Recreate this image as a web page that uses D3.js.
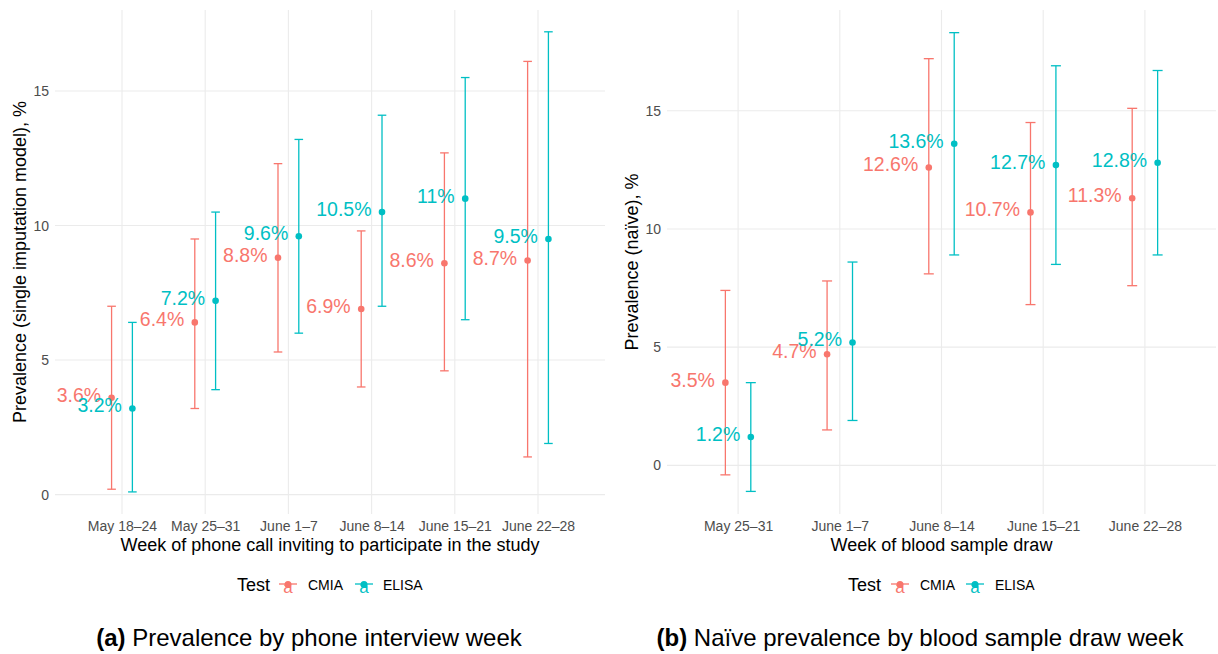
<!DOCTYPE html>
<html>
<head>
<meta charset="utf-8">
<script src="https://cdn.jsdelivr.net/npm/d3@7"></script>
<style>
  html, body { margin: 0; padding: 0; background: #fff; }
  svg { display: block; font-family: "Liberation Sans", Arial, Helvetica, sans-serif; }
</style>
</head>
<body>
<svg id="chart" width="1218" height="654"></svg>
<script>
// ---------- data ----------
const testNames = ["CMIA", "ELISA"];
const testColors = ["#F8766D", "#00BFC4"];
const yTicks = [0, 5, 10, 15];

// Panel (a): phone interview week, single imputation model
const weeksA = ["May 18–24", "May 25–31", "June 1–7", "June 8–14", "June 15–21", "June 22–28"];
const cmiaA    = [3.6, 6.4, 8.8, 6.9, 8.6, 8.7];
const cmiaALo  = [0.2, 3.2, 5.3, 4.0, 4.6, 1.4];
const cmiaAHi  = [7.0, 9.5, 12.3, 9.8, 12.7, 16.1];
const elisaA   = [3.2, 7.2, 9.6, 10.5, 11, 9.5];
const elisaALo = [0.1, 3.9, 6.0, 7.0, 6.5, 1.9];
const elisaAHi = [6.4, 10.5, 13.2, 14.1, 15.5, 17.2];

// Panel (b): blood sample draw week, naive
const weeksB = ["May 25–31", "June 1–7", "June 8–14", "June 15–21", "June 22–28"];
const cmiaB    = [3.5, 4.7, 12.6, 10.7, 11.3];
const cmiaBLo  = [-0.4, 1.5, 8.1, 6.8, 7.6];
const cmiaBHi  = [7.4, 7.8, 17.2, 14.5, 15.1];
const elisaB   = [1.2, 5.2, 13.6, 12.7, 12.8];
const elisaBLo = [-1.1, 1.9, 8.9, 8.5, 8.9];
const elisaBHi = [3.5, 8.6, 18.3, 16.9, 16.7];

const panels = [
  {
    weeks: weeksA,
    series: [
      {name: "CMIA", est: cmiaA, lo: cmiaALo, hi: cmiaAHi},
      {name: "ELISA", est: elisaA, lo: elisaALo, hi: elisaAHi}
    ],
    xRange: [55, 605], xPad: 0.805, yRange: [494.6, 91],
    yTitle: "Prevalence (single imputation model), %",
    xTitle: "Week of phone call inviting to participate in the study",
    yTitleX: 20, capHalf: 4.3,
    legend: {test: 237, keys: [288, 364], texts: [308, 383]},
    capLabel: "(a)", capText: " Prevalence by phone interview week", capX: 309
  },
  {
    weeks: weeksB,
    series: [
      {name: "CMIA", est: cmiaB, lo: cmiaBLo, hi: cmiaBHi},
      {name: "ELISA", est: elisaB, lo: elisaBLo, hi: elisaBHi}
    ],
    xRange: [667, 1216], xPad: 0.699, yRange: [465.4, 110.7],
    yTitle: "Prevalence (naïve), %",
    xTitle: "Week of blood sample draw",
    yTitleX: 631.7, capHalf: 5,
    legend: {test: 848, keys: [900, 975], texts: [920, 995]},
    capLabel: "(b)", capText: " Naïve prevalence by blood sample draw week", capX: 920
  }
];

const svg = d3.select("#chart");
const panelTop = 10, panelBottom = 514;

panels.forEach(p => {
  const g = svg.append("g");
  const x = d3.scalePoint().domain(p.weeks).range(p.xRange).padding(p.xPad);
  const y = d3.scaleLinear().domain([0, 15]).range(p.yRange);
  const dodge = x.step() * 0.125;

  // gridlines
  g.append("g").selectAll("line.h").data(yTicks).join("line")
    .attr("x1", p.xRange[0]).attr("x2", p.xRange[1])
    .attr("y1", d => y(d)).attr("y2", d => y(d))
    .attr("stroke", "#EBEBEB").attr("stroke-width", 1.1);
  g.append("g").selectAll("line.v").data(p.weeks).join("line")
    .attr("x1", d => x(d)).attr("x2", d => x(d))
    .attr("y1", panelTop).attr("y2", panelBottom)
    .attr("stroke", "#EBEBEB").attr("stroke-width", 1.1);

  // y axis
  const ya = g.append("g").attr("transform", `translate(${p.xRange[0]},0)`)
    .call(d3.axisLeft(y).tickValues(yTicks).tickSize(0).tickPadding(6));
  ya.select(".domain").remove();
  ya.selectAll("text").attr("font-size", 14).attr("fill", "#4D4D4D")
    .attr("font-family", "Liberation Sans, Arial, sans-serif");

  // x axis
  const xa = g.append("g").attr("transform", `translate(0,526)`)
    .call(d3.axisBottom(x).tickSize(0).tickPadding(0));
  xa.select(".domain").remove();
  xa.selectAll("text").attr("y", 0).attr("dy", "0.36em")
    .attr("font-size", 14).attr("fill", "#4D4D4D")
    .attr("font-family", "Liberation Sans, Arial, sans-serif");

  // axis titles
  g.append("text").attr("x", (p.xRange[0] + p.xRange[1]) / 2).attr("y", 551)
    .attr("text-anchor", "middle").attr("font-size", 18).attr("fill", "#000")
    .text(p.xTitle);
  g.append("text")
    .attr("transform", `translate(${p.yTitleX},${(panelTop + panelBottom) / 2}) rotate(-90)`)
    .attr("text-anchor", "middle").attr("dominant-baseline", "central")
    .attr("font-size", 18).attr("fill", "#000")
    .text(p.yTitle);

  // series
  p.series.forEach((s, si) => {
    const col = testColors[si];
    const off = si === 0 ? -dodge : dodge;
    const rows = p.weeks.map((w, i) => ({w, est: s.est[i], lo: s.lo[i], hi: s.hi[i]}));
    const sg = g.append("g");
    // error bars
    sg.selectAll("line.eb").data(rows).join("line")
      .attr("x1", d => x(d.w) + off).attr("x2", d => x(d.w) + off)
      .attr("y1", d => y(d.lo)).attr("y2", d => y(d.hi))
      .attr("stroke", col).attr("stroke-width", 1.3);
    sg.selectAll("line.cl").data(rows).join("line")
      .attr("x1", d => x(d.w) + off - p.capHalf).attr("x2", d => x(d.w) + off + p.capHalf)
      .attr("y1", d => y(d.lo)).attr("y2", d => y(d.lo))
      .attr("stroke", col).attr("stroke-width", 1.3);
    sg.selectAll("line.ch").data(rows).join("line")
      .attr("x1", d => x(d.w) + off - p.capHalf).attr("x2", d => x(d.w) + off + p.capHalf)
      .attr("y1", d => y(d.hi)).attr("y2", d => y(d.hi))
      .attr("stroke", col).attr("stroke-width", 1.3);
    // points
    sg.selectAll("circle").data(rows).join("circle")
      .attr("cx", d => x(d.w) + off).attr("cy", d => y(d.est))
      .attr("r", 3.3).attr("fill", col);
    s._rows = rows; s._off = off; s._col = col;
  });
  // labels
  p.series.forEach(s => {
    g.append("g").selectAll("text").data(s._rows).join("text")
      .attr("x", d => x(d.w) + s._off - 10.5)
      .attr("y", d => y(d.est) - 3)
      .attr("text-anchor", "end").attr("dominant-baseline", "central")
      .attr("font-size", 19.5).attr("fill", s._col)
      .text(d => String(d.est) + "%");
  });

  // legend
  const lg = g.append("g");
  lg.append("text").attr("x", p.legend.test).attr("y", 585)
    .attr("dominant-baseline", "central").attr("font-size", 18).attr("fill", "#000")
    .text("Test");
  testNames.forEach((n, i) => {
    const cx = p.legend.keys[i];
    const col = testColors[i];
    lg.append("line").attr("x1", cx - 9).attr("x2", cx + 9)
      .attr("y1", 584).attr("y2", 584).attr("stroke", col).attr("stroke-width", 1.3);
    lg.append("text").attr("x", cx).attr("y", 593).attr("text-anchor", "middle")
      .attr("font-size", 17).attr("fill", col).text("a");
    lg.append("circle").attr("cx", cx).attr("cy", 584.5).attr("r", 3.5).attr("fill", col);
    lg.append("text").attr("x", p.legend.texts[i]).attr("y", 585)
      .attr("dominant-baseline", "central").attr("font-size", 14).attr("fill", "#000")
      .text(n);
  });

  // caption
  const cap = g.append("text").attr("x", p.capX).attr("y", 637)
    .attr("text-anchor", "middle").attr("dominant-baseline", "central")
    .attr("font-size", 24).attr("fill", "#000");
  cap.append("tspan").attr("font-weight", "bold").text(p.capLabel);
  cap.append("tspan").text(p.capText);
});
</script>
</body>
</html>
